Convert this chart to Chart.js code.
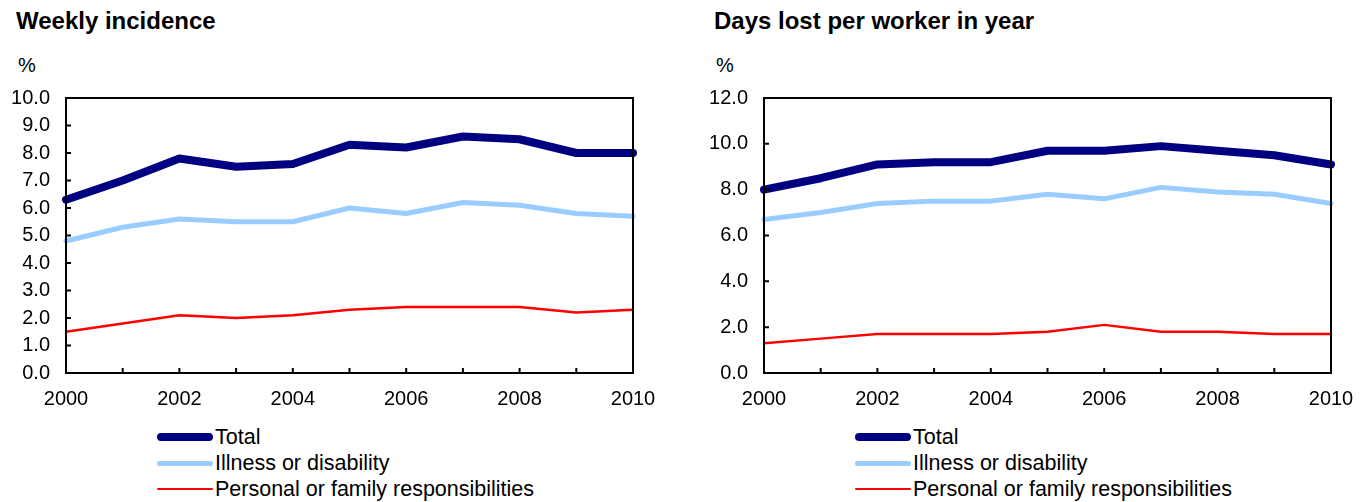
<!DOCTYPE html>
<html lang="en">
<head>
<meta charset="UTF-8">
<title>Weekly incidence / Days lost per worker</title>
<script src="https://cdn.jsdelivr.net/npm/chart.js"></script>
<style>
  * { margin: 0; padding: 0; box-sizing: border-box; }
  body { width: 1369px; height: 502px; background: #fff; font-family: "Liberation Sans", Arial, sans-serif; color: #000; overflow: hidden; }
  .panel { position: absolute; top: 0; width: 680px; height: 502px; }
  .title { position: absolute; left: 16px; top: 7px; font-size: 24px; font-weight: bold; white-space: nowrap; }
  .unit { position: absolute; left: 18px; top: 54px; font-size: 20px; }
  .canvas-box { position: absolute; left: 0; top: 80px; width: 660px; height: 340px; }
  .legend { position: absolute; left: 157px; top: 424px; }
  .legend-row { display: flex; align-items: center; height: 26px; font-size: 21.5px; white-space: nowrap; }
  .swatch { width: 56px; margin-right: 2px; border-radius: 4px; }
</style>
</head>
<body>

<div class="panel" style="left:0">
  <div class="title">Weekly incidence</div>
  <div class="unit">%</div>
  <div class="canvas-box"><canvas id="chartLeft"></canvas></div>
  <div class="legend" id="legendLeft"></div>
</div>

<div class="panel" style="left:698px">
  <div class="title">Days lost per worker in year</div>
  <div class="unit">%</div>
  <div class="canvas-box"><canvas id="chartRight"></canvas></div>
  <div class="legend" id="legendRight"></div>
</div>

<script>
// --- data ---
const years = ['2000', '2001', '2002', '2003', '2004', '2005', '2006', '2007', '2008', '2009', '2010'];
const seriesNames = ['Total', 'Illness or disability', 'Personal or family responsibilities'];

// weekly incidence (%)
const weeklyTotal    = [6.3, 7.0, 7.8, 7.5, 7.6, 8.3, 8.2, 8.6, 8.5, 8.0, 8.0];
const weeklyIllness  = [4.8, 5.3, 5.6, 5.5, 5.5, 6.0, 5.8, 6.2, 6.1, 5.8, 5.7];
const weeklyPersonal = [1.5, 1.8, 2.1, 2.0, 2.1, 2.3, 2.4, 2.4, 2.4, 2.2, 2.3];

// days lost per worker in year
const daysTotal    = [8.0, 8.5, 9.1, 9.2, 9.2, 9.7, 9.7, 9.9, 9.7, 9.5, 9.1];
const daysIllness  = [6.7, 7.0, 7.4, 7.5, 7.5, 7.8, 7.6, 8.1, 7.9, 7.8, 7.4];
const daysPersonal = [1.3, 1.5, 1.7, 1.7, 1.7, 1.8, 2.1, 1.8, 1.8, 1.7, 1.7];

// styles per series
const colors = ['#000080', '#99ccff', '#ff0000'];
const widths = [8, 5, 2.5];

const FONT = { family: '"Liberation Sans", Arial, sans-serif', size: 20 };

// border box + inside tick marks
const frame = {
  id: 'frame',
  afterDatasetsDraw(chart) {
    const { ctx, chartArea: a, scales: { x, y } } = chart;
    ctx.save();
    ctx.strokeStyle = '#000';
    ctx.lineWidth = 2;
    ctx.strokeRect(a.left, a.top, a.right - a.left, a.bottom - a.top);
    ctx.beginPath();
    x.ticks.forEach((t, i) => {
      const px = x.getPixelForTick(i);
      ctx.moveTo(px, a.bottom);
      ctx.lineTo(px, a.bottom - 5);
    });
    y.ticks.forEach((t, i) => {
      const py = y.getPixelForTick(i);
      ctx.moveTo(a.left, py);
      ctx.lineTo(a.left + 5, py);
    });
    ctx.stroke();
    ctx.restore();
  }
};

function makeChart(id, series, yMax, yStep) {
  return new Chart(document.getElementById(id), {
    type: 'line',
    data: {
      labels: years,
      datasets: series.map((d, i) => ({
        label: seriesNames[i],
        data: d,
        borderColor: colors[i],
        borderWidth: widths[i],
        pointRadius: 0,
        tension: 0,
        borderCapStyle: 'round',
        borderJoinStyle: 'round',
        clip: false
      })).reverse()
    },
    options: {
      responsive: true,
      maintainAspectRatio: false,
      animation: false,
      layout: { autoPadding: false, padding: { left: 0, right: 27, top: 18, bottom: 0 } },
      plugins: { legend: { display: false }, tooltip: { enabled: false } },
      scales: {
        x: {
          type: 'category',
          offset: false,
          grid: { display: false, drawTicks: false },
          border: { display: false },
          ticks: {
            autoSkip: false, maxRotation: 0, padding: 14, color: '#000', font: FONT,
            callback: (v, i) => (i % 2 === 0 ? years[i] : '')
          },
          afterFit: s => { s.height = 47; s.paddingLeft = 0; s.paddingRight = 0; }
        },
        y: {
          min: 0, max: yMax,
          grid: { display: false, drawTicks: false },
          border: { display: false },
          ticks: { stepSize: yStep, autoSkip: false, padding: 16, color: '#000', font: FONT, callback: v => v.toFixed(1) },
          afterFit: s => { s.width = 66; s.paddingTop = 0; s.paddingBottom = 0; }
        }
      }
    },
    plugins: [frame]
  });
}

function makeLegend(id) {
  const box = document.getElementById(id);
  seriesNames.forEach((name, i) => {
    const row = document.createElement('div');
    row.className = 'legend-row';
    const sw = document.createElement('span');
    sw.className = 'swatch';
    sw.style.height = widths[i] + 'px';
    sw.style.background = colors[i];
    row.appendChild(sw);
    row.appendChild(document.createTextNode(name));
    box.appendChild(row);
  });
}

makeChart('chartLeft', [weeklyTotal, weeklyIllness, weeklyPersonal], 10, 1);
makeChart('chartRight', [daysTotal, daysIllness, daysPersonal], 12, 2);
makeLegend('legendLeft');
makeLegend('legendRight');
</script>
</body>
</html>
